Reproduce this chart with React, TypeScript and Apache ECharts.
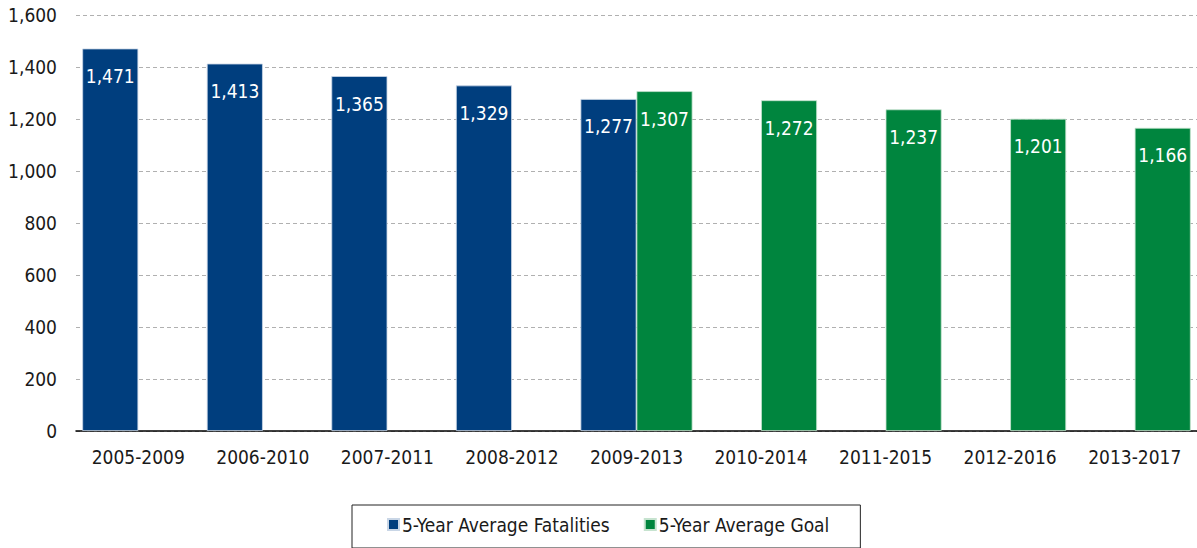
import React, { useEffect, useRef } from "react";
import * as echarts from "echarts";

const categories = ["2005-2009", "2006-2010", "2007-2011", "2008-2012", "2009-2013", "2010-2014", "2011-2015", "2012-2016", "2013-2017"];
const fatalities = [1471, 1413, 1365, 1329, 1277, null, null, null, null];
const goals = [null, null, null, null, 1307, 1272, 1237, 1201, 1166];
const yTicks = { min: 0, max: 1600, interval: 200 };

const FONT = "'Liberation Sans Narrow', 'DejaVu Sans Condensed', Arial, sans-serif";

export default function App() {
  const ref = useRef<HTMLDivElement>(null);
  useEffect(() => {
    const chart = echarts.init(ref.current!, null, { renderer: "svg" });
    const label = {
      show: true,
      position: "insideTop" as const,
      distance: 18,
      color: "#ffffff",
      fontFamily: FONT,
      fontSize: 19,
      formatter: (p: any) => (p.value == null ? "" : Number(p.value).toLocaleString("en-US")),
    };
    chart.setOption({
      animation: false,
      grid: { left: 76, right: 0, top: 15, bottom: 117, containLabel: false },
      legend: {
        left: 352,
        top: 505,
        padding: [10, 31, 14, 35],
        borderColor: "#222",
        borderWidth: 1,
        itemWidth: 11,
        itemHeight: 11,
        itemGap: 34,
        icon: "rect",
        textStyle: { fontFamily: FONT, fontSize: 19, color: "#1a1a1a", padding: [0, 0, 0, -2] },
        data: ["5-Year Average Fatalities", "5-Year Average Goal"],
      },
      xAxis: {
        type: "category",
        data: categories,
        axisLine: { lineStyle: { color: "#000", width: 1.5 } },
        axisTick: { show: false },
        axisLabel: { fontFamily: FONT, fontSize: 19, color: "#1a1a1a", margin: 16 },
      },
      yAxis: {
        type: "value",
        min: yTicks.min,
        max: yTicks.max,
        interval: yTicks.interval,
        axisLine: { show: false },
        axisTick: { show: false },
        splitLine: { lineStyle: { color: "#b0b0b0", type: [4, 3], width: 1 } },
        axisLabel: {
          fontFamily: FONT,
          fontSize: 19,
          color: "#1a1a1a",
          margin: 19,
          formatter: (v: number) => v.toLocaleString("en-US"),
        },
      },
      series: [
        {
          name: "5-Year Average Fatalities",
          type: "bar",
          data: fatalities,
          barWidth: 56,
          barGap: "0%",
          itemStyle: { color: "#003E7E", borderColor: "#c9d6e6", borderWidth: 0.8 },
          label,
        },
        {
          name: "5-Year Average Goal",
          type: "bar",
          data: goals,
          barWidth: 56,
          barGap: "0%",
          itemStyle: { color: "#00853E", borderColor: "#c6e3cf", borderWidth: 0.8 },
          label,
        },
      ],
    });
    return () => chart.dispose();
  }, []);
  return <div ref={ref} style={{ width: 1197, height: 548, position: "absolute", left: 0, top: 0 }} />;
}
